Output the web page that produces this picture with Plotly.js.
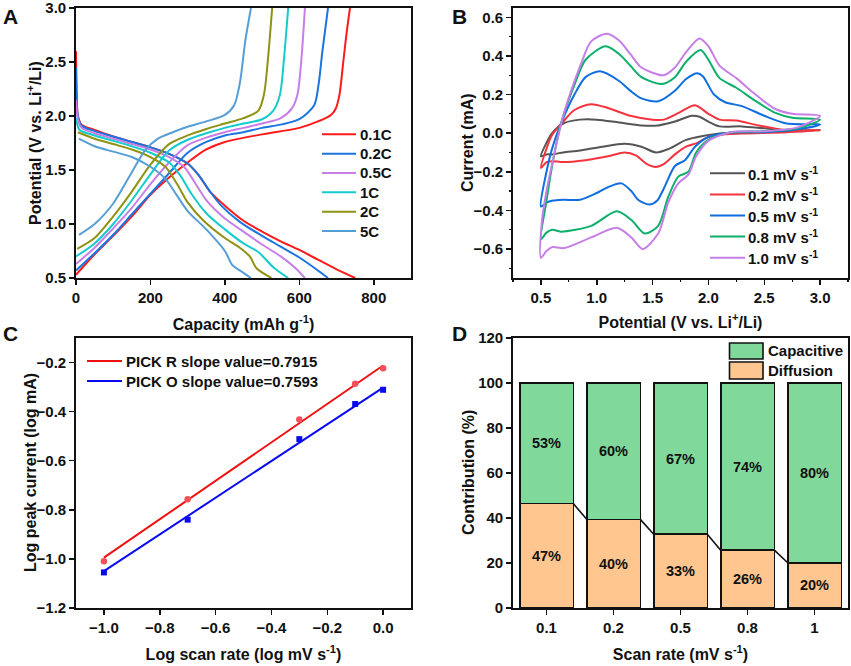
<!DOCTYPE html>
<html>
<head>
<meta charset="utf-8">
<script src="https://cdn.plot.ly/plotly-3.0.1.min.js"></script>
<style>html,body{margin:0;padding:0;background:#fff}</style>
</head>
<body>
<div id="chart" style="width:851px;height:666px"></div>
<script>
// ── Panel A : charge / discharge curves ───────────────
const rateNames = ['0.1C', '0.2C', '0.5C', '1C', '2C', '5C'];
const rateColors = ['#FF1A1A', '#1A75E0', '#C77FE8', '#14CCCC', '#8F9212', '#559FD6'];

const charge01Cap = [0, 50, 100, 150, 200, 250, 300, 350, 400, 500, 600, 650, 685, 698, 708, 718, 727, 736];
const charge01V   = [0.53, 0.72, 0.89, 1.07, 1.27, 1.43, 1.57, 1.69, 1.76, 1.83, 1.89, 1.95, 2.01, 2.07, 2.2, 2.5, 2.77, 3.0];
const charge02Cap = [0, 50, 100, 150, 200, 250, 300, 350, 400, 450, 500, 550, 600, 640, 652, 662, 677];
const charge02V   = [0.57, 0.73, 0.9, 1.09, 1.28, 1.47, 1.66, 1.76, 1.82, 1.85, 1.89, 1.92, 1.97, 2.1, 2.3, 2.6, 3.0];
const charge05Cap = [0, 50, 100, 150, 200, 250, 300, 350, 400, 450, 500, 550, 580, 595, 605, 615];
const charge05V   = [0.63, 0.78, 0.96, 1.15, 1.37, 1.57, 1.73, 1.8, 1.85, 1.89, 1.93, 1.98, 2.07, 2.2, 2.5, 3.0];
const charge1Cap  = [0, 50, 100, 150, 200, 250, 300, 350, 400, 450, 500, 530, 548, 558, 570];
const charge1V    = [0.7, 0.82, 1.0, 1.22, 1.46, 1.68, 1.78, 1.84, 1.89, 1.93, 1.97, 2.05, 2.2, 2.5, 3.0];
const charge2Cap  = [3, 50, 100, 150, 200, 250, 300, 350, 400, 450, 490, 505, 515, 527];
const charge2V    = [0.77, 0.87, 1.07, 1.3, 1.55, 1.74, 1.82, 1.88, 1.93, 1.98, 2.05, 2.2, 2.5, 3.0];
const charge5Cap  = [8, 50, 100, 150, 185, 220, 260, 300, 350, 400, 425, 440, 455, 470];
const charge5V    = [0.9, 1.0, 1.19, 1.48, 1.68, 1.79, 1.85, 1.9, 1.95, 2.01, 2.1, 2.3, 2.7, 3.0];

const disch01Cap = [0, 2, 5, 15, 50, 100, 150, 200, 250, 300, 330, 360, 400, 450, 500, 550, 600, 650, 700, 750];
const disch01V   = [2.6, 2.2, 2.0, 1.92, 1.87, 1.81, 1.76, 1.71, 1.65, 1.56, 1.45, 1.3, 1.17, 1.03, 0.93, 0.84, 0.76, 0.67, 0.58, 0.5];
const disch02Cap = [0, 2, 5, 15, 50, 100, 150, 200, 250, 300, 330, 360, 390, 440, 500, 550, 600, 650, 677];
const disch02V   = [2.45, 2.15, 2.0, 1.91, 1.86, 1.81, 1.76, 1.71, 1.65, 1.56, 1.45, 1.3, 1.17, 1.02, 0.89, 0.79, 0.69, 0.57, 0.5];
const disch05Cap = [0, 5, 15, 50, 100, 150, 200, 250, 290, 320, 350, 400, 450, 500, 550, 590, 615];
const disch05V   = [2.15, 1.97, 1.89, 1.84, 1.79, 1.74, 1.69, 1.62, 1.53, 1.38, 1.22, 1.05, 0.93, 0.81, 0.7, 0.59, 0.5];
const disch1Cap  = [0, 10, 50, 100, 150, 200, 250, 280, 310, 350, 400, 450, 490, 530, 570];
const disch1V    = [1.98, 1.87, 1.82, 1.77, 1.72, 1.66, 1.57, 1.45, 1.28, 1.1, 0.95, 0.82, 0.74, 0.6, 0.5];
const disch2Cap  = [5, 50, 100, 150, 200, 240, 270, 300, 340, 400, 440, 467, 485, 525];
const disch2V    = [1.85, 1.79, 1.74, 1.69, 1.62, 1.53, 1.38, 1.2, 1.04, 0.87, 0.78, 0.7, 0.59, 0.5];
const disch5Cap  = [8, 50, 100, 150, 200, 240, 270, 300, 350, 400, 420, 440, 470];
const disch5V    = [1.79, 1.72, 1.67, 1.62, 1.53, 1.42, 1.27, 1.12, 0.95, 0.75, 0.62, 0.57, 0.5];

// ── Panel B : cyclic voltammetry ──────────────────────
const scanNames = ['0.1 mV s<sup>-1</sup>', '0.2 mV s<sup>-1</sup>', '0.5 mV s<sup>-1</sup>', '0.8 mV s<sup>-1</sup>', '1.0 mV s<sup>-1</sup>'];
const scanColors = ['#555555', '#F5333F', '#0F6FE0', '#0DAF6A', '#C77FE8'];

const cv01X = [0.5, 0.55, 0.6, 0.7, 0.85, 1.0, 1.2, 1.4, 1.55, 1.7, 1.85, 1.92, 2.0, 2.1, 2.3, 2.5, 2.7, 3.0, 2.5, 2.2, 2.05, 1.95, 1.8, 1.65, 1.53, 1.4, 1.25, 1.05, 0.85, 0.7, 0.6, 0.55, 0.5];
const cv01Y = [-0.12, -0.05, 0, 0.05, 0.07, 0.07, 0.055, 0.04, 0.04, 0.06, 0.09, 0.085, 0.06, 0.035, 0.035, 0.025, 0.015, 0.015, 0.005, 0.002, -0.005, -0.015, -0.035, -0.08, -0.1, -0.07, -0.055, -0.07, -0.09, -0.1, -0.11, -0.11, -0.12];
const cv02X = [0.5, 0.55, 0.6, 0.7, 0.8, 0.95, 1.1, 1.3, 1.5, 1.6, 1.75, 1.88, 2.0, 2.1, 2.25, 2.45, 2.7, 3.0, 2.7, 2.3, 2.1, 2.0, 1.9, 1.8, 1.7, 1.6, 1.53, 1.45, 1.35, 1.25, 1.1, 0.9, 0.7, 0.6, 0.55, 0.5];
const cv02Y = [-0.18, -0.08, -0.01, 0.06, 0.12, 0.15, 0.13, 0.09, 0.07, 0.07, 0.11, 0.145, 0.1, 0.07, 0.065, 0.04, 0.015, 0.015, 0.005, -0.002, -0.008, -0.02, -0.05, -0.07, -0.11, -0.16, -0.175, -0.16, -0.115, -0.1, -0.12, -0.14, -0.15, -0.145, -0.15, -0.18];
const cv05X = [0.5, 0.55, 0.6, 0.68, 0.8, 0.9, 1.03, 1.2, 1.3, 1.4, 1.55, 1.7, 1.8, 1.9, 1.95, 2.05, 2.15, 2.3, 2.5, 2.7, 3.0, 2.8, 2.5, 2.2, 2.0, 1.88, 1.79, 1.7, 1.61, 1.54, 1.47, 1.37, 1.31, 1.22, 1.1, 1.0, 0.85, 0.7, 0.6, 0.55, 0.5];
const cv05Y = [-0.38, -0.2, -0.08, 0.05, 0.2, 0.29, 0.32, 0.27, 0.22, 0.18, 0.165, 0.22, 0.28, 0.31, 0.295, 0.2, 0.16, 0.14, 0.09, 0.05, 0.045, 0.02, 0.005, 0.003, -0.02, -0.07, -0.14, -0.17, -0.275, -0.35, -0.37, -0.345, -0.3, -0.26, -0.28, -0.31, -0.345, -0.345, -0.35, -0.36, -0.38];
const cv08X = [0.5, 0.55, 0.6, 0.68, 0.8, 0.9, 1.08, 1.2, 1.3, 1.4, 1.58, 1.7, 1.8, 1.93, 2.0, 2.1, 2.25, 2.4, 2.6, 2.75, 3.0, 2.8, 2.5, 2.2, 2.0, 1.89, 1.82, 1.73, 1.64, 1.55, 1.43, 1.31, 1.18, 0.95, 0.68, 0.6, 0.55, 0.5];
const cv08Y = [-0.55, -0.35, -0.17, 0.05, 0.25, 0.38, 0.45, 0.41, 0.35, 0.29, 0.255, 0.29, 0.37, 0.43, 0.38, 0.285, 0.235, 0.175, 0.105, 0.08, 0.07, 0.025, 0.01, 0.003, -0.035, -0.1, -0.2, -0.225, -0.33, -0.48, -0.52, -0.45, -0.405, -0.48, -0.51, -0.5, -0.515, -0.55];
const cv10X = [0.5, 0.51, 0.55, 0.6, 0.7, 0.86, 0.95, 1.09, 1.2, 1.3, 1.4, 1.6, 1.7, 1.8, 1.92, 2.0, 2.1, 2.25, 2.4, 2.6, 2.75, 3.0, 2.8, 2.5, 2.2, 2.0, 1.89, 1.82, 1.73, 1.64, 1.55, 1.41, 1.31, 1.18, 0.95, 0.71, 0.6, 0.55, 0.5];
const cv10Y = [-0.645, -0.45, -0.3, -0.16, 0.09, 0.36, 0.475, 0.515, 0.48, 0.41, 0.34, 0.3, 0.34, 0.42, 0.49, 0.45, 0.35, 0.285, 0.21, 0.125, 0.1, 0.09, 0.03, 0.01, 0.005, -0.04, -0.12, -0.215, -0.26, -0.36, -0.52, -0.6, -0.54, -0.49, -0.54, -0.595, -0.59, -0.61, -0.645];

// ── Panel C : log i / log v ───────────────────────────
const logRate = [-1, -0.7, -0.3, -0.1, 0];
const peakR = [-1.01, -0.757, -0.432, -0.286, -0.223];
const peakO = [-1.055, -0.84, -0.512, -0.369, -0.311];
const fitX = [-1, 0];
const fitR = [-0.995, -0.212];
const fitO = [-1.05, -0.302];
const fitNames = ['PICK R slope value=0.7915', 'PICK O slope value=0.7593'];
const fitColors = ['#F01010', '#0A0AF0'];

// ── Panel D : contributions ───────────────────────────
const rateLabels = ['0.1', '0.2', '0.5', '0.8', '1'];
const barPos = [0, 1, 2, 3, 4];
const diffusion = [46.4, 39.4, 32.8, 25.7, 20.1];
const capacitive = [53.6, 60.6, 67.2, 74.3, 79.9];
const diffusionText = ['47%', '40%', '33%', '26%', '20%'];
const capacitiveText = ['53%', '60%', '67%', '74%', '80%'];

const W = 851, H = 666;
const FAMILY = 'Liberation Sans, Arial, sans-serif';
const TICK_FONT  = { family: FAMILY, size: 15, color: '#111', weight: 'bold' };
const TITLE_FONT = { family: FAMILY, size: 16, color: '#111', weight: 'bold' };

const dx = (a, b) => [a / W, b / W];
const dy = (top, bot) => [1 - bot / H, 1 - top / H];
const px = x => x / W, py = y => 1 - y / H;

function axis(domain, range, extra) {
  return {
    domain, range,
    showgrid: false, zeroline: false,
    showline: true, mirror: true, linecolor: '#111', linewidth: 1.8,
    ticks: 'outside', ticklen: 5, tickwidth: 1.5, tickcolor: '#111',
    tickfont: TICK_FONT, automargin: false, ticklabeloverflow: 'allow',
    ...extra,
  };
}

function title(text, standoff) {
  return { text, font: TITLE_FONT, standoff };
}

function line(x, y, name, color, xa, ya) {
  return {
    x, y, name, type: 'scatter', mode: 'lines',
    xaxis: xa, yaxis: ya, showlegend: false,
    line: { color, width: 2, shape: 'spline', smoothing: 0.8 },
    hoverinfo: 'skip',
  };
}

const traces = [];

// A
const chargeCap = [charge01Cap, charge02Cap, charge05Cap, charge1Cap, charge2Cap, charge5Cap];
const chargeV = [charge01V, charge02V, charge05V, charge1V, charge2V, charge5V];
const dischCap = [disch01Cap, disch02Cap, disch05Cap, disch1Cap, disch2Cap, disch5Cap];
const dischV = [disch01V, disch02V, disch05V, disch1V, disch2V, disch5V];
rateNames.forEach((n, i) => {
  traces.push(line(chargeCap[i], chargeV[i], n, rateColors[i], 'x', 'y'));
  traces.push(line(dischCap[i], dischV[i], n, rateColors[i], 'x', 'y'));
});

// B
const cvX = [cv01X, cv02X, cv05X, cv08X, cv10X];
const cvY = [cv01Y, cv02Y, cv05Y, cv08Y, cv10Y];
scanNames.forEach((n, i) => {
  traces.push(line(cvX[i], cvY[i], n, scanColors[i], 'x2', 'y2'));
});

// C
traces.push(line(fitX, fitR, fitNames[0], fitColors[0], 'x3', 'y3'));
traces.push(line(fitX, fitO, fitNames[1], fitColors[1], 'x3', 'y3'));
traces.push({ x: logRate, y: peakR, type: 'scatter', mode: 'markers', xaxis: 'x3', yaxis: 'y3', showlegend: false,
  marker: { symbol: 'circle', size: 6.5, color: '#F4505A' }, hoverinfo: 'skip' });
traces.push({ x: logRate, y: peakO, type: 'scatter', mode: 'markers', xaxis: 'x3', yaxis: 'y3', showlegend: false,
  marker: { symbol: 'square', size: 6, color: '#0A0AF0' }, hoverinfo: 'skip' });

// D
const barFont = { family: FAMILY, size: 14.5, color: '#111', weight: 'bold' };
traces.push({ x: barPos, y: diffusion, type: 'bar', name: 'Diffusion', xaxis: 'x4', yaxis: 'y4', width: 0.8,
  text: diffusionText, textposition: 'inside', insidetextanchor: 'middle', textangle: 0, insidetextfont: barFont,
  marker: { color: '#FFC78F', line: { color: '#111', width: 1.6 } }, showlegend: false, hoverinfo: 'skip' });
traces.push({ x: barPos, y: capacitive, type: 'bar', name: 'Capacitive', xaxis: 'x4', yaxis: 'y4', width: 0.8,
  text: capacitiveText, textposition: 'inside', insidetextanchor: 'middle', textangle: 0, insidetextfont: barFont,
  marker: { color: '#80D99B', line: { color: '#111', width: 1.6 } }, showlegend: false, hoverinfo: 'skip' });
// liaisons entre barres
const connX = [], connY = [];
for (let i = 0; i < diffusion.length - 1; i++) {
  connX.push(barPos[i] + 0.4, barPos[i + 1] - 0.4, null);
  connY.push(diffusion[i], diffusion[i + 1], null);
}
traces.push({ x: connX, y: connY, type: 'scatter', mode: 'lines', xaxis: 'x4', yaxis: 'y4', showlegend: false,
  line: { color: '#111', width: 1.6 }, hoverinfo: 'skip' });

// légendes, titres Y et lettres des panneaux, en pixels
const shapes = [], annotations = [];

const note = (x, y, text, size, xanchor) => ({
  xref: 'paper', yref: 'paper', x: px(x), y: py(y), text, showarrow: false,
  xanchor, yanchor: 'middle', borderpad: 0,
  font: { family: FAMILY, size, color: '#111', weight: 'bold' },
});

function lineLegend(names, colors, x0, x1, xText, yFirst, step) {
  names.forEach((n, i) => {
    const y = yFirst + i * step;
    shapes.push({ type: 'line', xref: 'paper', yref: 'paper', x0: px(x0), x1: px(x1), y0: py(y), y1: py(y),
      line: { color: colors[i], width: 2 } });
    annotations.push(note(xText, y, n, 15, 'left'));
  });
}

lineLegend(rateNames, rateColors, 322, 356, 359, 134.3, 19.35);
lineLegend(scanNames, scanColors, 710, 745, 747, 173.3, 21.1);
lineLegend(fitNames, fitColors, 87, 122, 125, 361, 20);

const swatches = [
  { y0: 343, y1: 359, color: '#80D99B', text: 'Capacitive' },
  { y0: 362, y1: 379, color: '#FFC78F', text: 'Diffusion' },
];
swatches.forEach(s => {
  shapes.push({ type: 'rect', xref: 'paper', yref: 'paper', layer: 'above',
    x0: px(729.5), x1: px(763), y0: py(s.y1), y1: py(s.y0),
    fillcolor: s.color, line: { color: '#111', width: 1.6 } });
  annotations.push(note(767, (s.y0 + s.y1) / 2, s.text, 15, 'left'));
});

const yTitle = (x, y, text) => ({ ...note(x, y, text, 16, 'center'), textangle: -90 });
annotations.push(
  yTitle(34, 143, 'Potential (V vs. Li<sup>+</sup>/Li)'),
  yTitle(467, 143, 'Current (mA)'),
  yTitle(30, 473, 'Log peak current (log mA)'),
  yTitle(468, 473, 'Contribution (%)'),
);

annotations.push(note(2, 16, 'A', 21, 'left'), note(451, 16, 'B', 21, 'left'),
  note(2, 333, 'C', 21, 'left'), note(451, 333, 'D', 21, 'left'));

const layout = {
  width: W, height: H,
  margin: { l: 0, r: 0, t: 0, b: 0 },
  paper_bgcolor: '#fff', plot_bgcolor: '#fff',
  font: TICK_FONT, barmode: 'stack', bargap: 0.2,
  shapes, annotations, showlegend: false,
  xaxis: axis(dx(76, 411), [0, 900], { dtick: 200, tick0: 0, anchor: 'y', title: title('Capacity (mAh g<sup>-1</sup>)', 14) }),
  yaxis: axis(dy(8, 278), [0.5, 3], { dtick: 0.5, tick0: 0.5, tickformat: '.1f', anchor: 'x' }),
  xaxis2: axis(dx(513, 848), [0.25, 3.25], { dtick: 0.5, tick0: 0.5, tickformat: '.1f', anchor: 'y2',
    minor: { ticks: 'outside', ticklen: 2.5, dtick: 0.25, tick0: 0.25, tickcolor: '#111', tickwidth: 1.2 },
    title: title('Potential (V vs. Li<sup>+</sup>/Li)', 12) }),
  yaxis2: axis(dy(8, 278), [-0.75, 0.648], { dtick: 0.2, tick0: 0, tickformat: '.1f', anchor: 'x2',
    minor: { ticks: 'outside', ticklen: 2.5, dtick: 0.1, tick0: 0, tickcolor: '#111', tickwidth: 1.2 } }),
  xaxis3: axis(dx(76, 411), [-1.1, 0.1], { dtick: 0.2, tick0: 0, tickformat: '.1f', anchor: 'y3', title: title('Log scan rate (log mV s<sup>-1</sup>)', 14) }),
  yaxis3: axis(dy(338, 608), [-1.2, -0.1], { dtick: 0.2, tick0: -0.2, tickformat: '.1f', anchor: 'x3' }),
  xaxis4: axis(dx(513, 848), [-0.5, 4.5], { tickvals: barPos, ticktext: rateLabels, anchor: 'y4', title: title('Scan rate (mV s<sup>-1</sup>)', 14) }),
  yaxis4: axis(dy(338, 608), [0, 120], { dtick: 20, tick0: 0, anchor: 'x4' }),
};

Plotly.newPlot('chart', traces, layout, { displayModeBar: false, staticPlot: true });
</script>
</body>
</html>
